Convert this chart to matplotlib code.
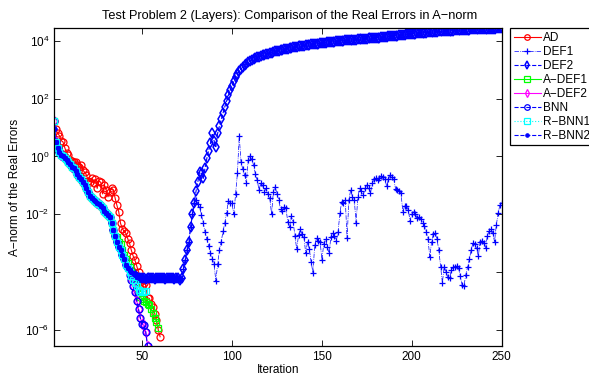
import numpy as np
import matplotlib.pyplot as plt

plt.rcParams['font.family'] = ['Liberation Sans', 'DejaVu Sans']
plt.rcParams['mathtext.fontset'] = 'custom'
plt.rcParams['mathtext.rm'] = 'Liberation Sans'
plt.rcParams['mathtext.it'] = 'Liberation Sans:italic'

# log10 of the A-norm error, one value per iteration

# iterations 1..42, common start of the deflation-type methods
early = [0.94, 0.50, 0.30, 0.15, 0.05, 0.00, -0.05, -0.12, -0.20, -0.28,
         -0.35, -0.41, -0.50, -0.60, -0.70, -0.80, -0.90, -1.00, -1.10, -1.25,
         -1.38, -1.45, -1.50, -1.55, -1.60, -1.65, -1.72, -1.80, -1.88, -1.95,
         -2.03, -2.10, -2.30, -2.55, -2.75, -2.95, -3.13, -3.25, -3.40, -3.55,
         -3.75, -3.88]
start_perturbed = 1.24          # iteration 1 for AD / A-DEF / BNN / R-BNN1

# iterations 43..71, stagnation of DEF1, DEF2 and R-BNN2
plateau = [-3.95, -4.00, -4.05, -4.12, -4.18, -4.21,
           -4.23, -4.22, -4.23, -4.24, -4.23, -4.23, -4.22, -4.23, -4.24, -4.23,
           -4.23, -4.22, -4.23, -4.23, -4.24, -4.23, -4.22, -4.23, -4.23, -4.24,
           -4.23, -4.23, -4.28]

# iterations 72..79, DEF1 and DEF2 blow up together
rise = [-4.20, -3.90, -3.59, -3.25, -2.95, -2.45, -2.00, -1.60]

# iterations 80..250
def1_tail = [-1.51, -1.65, -1.76, -2.03, -2.32, -2.61, -2.87, -3.10, -3.35, -3.55,
             -3.73, -4.31, -3.73, -3.24, -2.95, -2.60, -2.30, -1.95, -1.53, -1.60,
             -1.63, -2.00, -1.30, -0.59, 0.71, -0.18, -0.45, -0.64, -0.91, -0.12,
             0.01, -0.10, -0.30, -0.60, -0.82, -1.16, -0.93, -1.00, -1.22, -1.11,
             -1.30, -1.45, -2.00, -1.22, -1.05, -1.30, -1.51, -1.83, -1.90, -1.76,
             -1.80, -2.26, -2.46, -2.07, -2.26, -2.76, -3.22, -2.72, -2.53, -2.70,
             -2.80, -3.36, -2.96, -3.22, -3.65, -4.03, -3.07, -2.84, -2.92, -2.95,
             -3.59, -3.04, -2.87, -3.13, -3.36, -2.78, -2.64, -2.75, -2.92, -2.61,
             -1.97, -1.57, -1.60, -1.51, -2.84, -1.51, -1.16, -1.40, -1.50, -2.30,
             -1.40, -1.11, -1.20, -1.34, -1.10, -0.99, -1.10, -1.28, -0.93, -0.80,
             -0.76, -0.82, -0.75, -0.68, -0.72, -0.79, -1.03, -0.80, -0.64, -0.70,
             -0.79, -1.14, -1.15, -1.19, -1.28, -1.92, -1.72, -1.72, -1.85, -2.23,
             -2.00, -1.92, -2.00, -2.15, -2.10, -2.18, -2.30, -2.41, -2.61, -2.87,
             -3.48, -2.96, -2.69, -2.67, -2.87, -3.24, -3.82, -4.38, -3.82, -4.00,
             -4.17, -4.23, -3.94, -3.85, -3.82, -3.80, -3.88, -4.15, -4.46, -4.49,
             -4.11, -3.84, -3.57, -3.24, -3.01, -3.05, -3.19, -3.45, -2.96, -2.92,
             -3.00, -3.19, -2.76, -2.60, -2.53, -2.64, -2.96, -2.38, -1.97, -1.68,
             -1.60]

def2_tail = [-1.20, -0.88, -0.53, -0.60, -0.76, -0.40, -0.07, 0.20, 0.45, 0.80,
             0.55, 0.34, 0.80, 1.05, 1.28, 1.50, 1.72, 1.92, 2.12, 2.30,
             2.45, 2.60, 2.74, 2.86, 2.95, 3.03, 3.10, 3.16, 3.22, 3.27,
             3.31, 3.34, 3.37, 3.40, 3.43, 3.45, 3.48, 3.50, 3.52, 3.54,
             3.56, 3.58, 3.60, 3.62, 3.64, 3.66, 3.67, 3.69, 3.70, 3.72,
             3.73, 3.74, 3.76, 3.77, 3.78, 3.79, 3.80, 3.81, 3.82, 3.83,
             3.84, 3.85, 3.86, 3.87, 3.88, 3.89, 3.90, 3.90, 3.91, 3.92,
             3.93, 3.94, 3.94, 3.95, 3.96, 3.97, 3.97, 3.98, 3.99, 3.99,
             4.00, 4.01, 4.01, 4.02, 4.02, 4.03, 4.03, 4.04, 4.05, 4.05,
             4.06, 4.06, 4.07, 4.07, 4.08, 4.08, 4.09, 4.10, 4.10, 4.11,
             4.11, 4.12, 4.12, 4.13, 4.14, 4.14, 4.15, 4.16, 4.16, 4.17,
             4.18, 4.19, 4.19, 4.20, 4.21, 4.21, 4.22, 4.23, 4.24, 4.24,
             4.25, 4.26, 4.26, 4.27, 4.27, 4.28, 4.28, 4.29, 4.29, 4.30,
             4.30, 4.31, 4.31, 4.32, 4.32, 4.33, 4.33, 4.34, 4.34, 4.35,
             4.35, 4.35, 4.36, 4.36, 4.37, 4.37, 4.37, 4.38, 4.38, 4.38,
             4.39, 4.39, 4.39, 4.40, 4.40, 4.40, 4.41, 4.41, 4.41, 4.42,
             4.42, 4.42, 4.42, 4.43, 4.43, 4.43, 4.43, 4.44, 4.44, 4.44,
             4.44]

# AD, iterations 1..60
ad = [1.24, 0.95, 0.80, 0.72, 0.55, 0.50, 0.30, 0.12, 0.05, -0.12,
      -0.15, -0.20, -0.18, -0.30, -0.35, -0.30, -0.47, -0.55, -0.64, -0.85,
      -0.88, -0.75, -0.93, -0.80, -1.11, -0.85, -0.90, -1.30, -0.99, -1.15,
      -1.40, -1.25, -1.10, -1.16, -1.45, -1.70, -1.92, -2.32, -2.50, -2.60,
      -2.67, -2.85, -3.01, -3.25, -3.45, -3.60, -3.80, -4.00, -4.30, -4.50,
      -4.40, -4.45, -4.90, -4.92, -5.10, -5.21, -5.45, -5.67, -6.02, -6.25]

# A-DEF1, iterations 36..59
adef1_tail = [-2.80, -2.95, -3.05, -3.24, -3.40, -3.55, -3.70, -3.85, -4.00, -4.20,
              -4.40, -4.55, -4.70, -4.86, -4.95, -5.00, -5.05, -5.10, -5.15, -5.30,
              -5.44, -5.60, -5.73, -5.95]
# A-DEF2 and BNN, iterations 43..53
adef2_tail = [-4.10, -4.30, -4.50, -4.70, -5.00, -5.30, -5.60, -5.80, -5.85, -6.08, -6.56]
bnn_tail = [-4.10, -4.30, -4.50, -4.70, -5.00, -5.30, -5.60, -5.80, -5.85, -6.08, -6.56]
# R-BNN1, iterations 43..52
rbnn1_tail = [-4.00, -4.15, -4.28, -4.40, -4.50, -4.62, -4.69, -4.68, -4.70, -4.66]

M = '\u2212'
series = [
    ('AD', ad, dict(color='#ff0000', ls='-', marker='o')),
    ('DEF1', early + plateau + rise + def1_tail, dict(color='#0000ff', ls='-.', marker='+', lw=0.5)),
    ('DEF2', early + plateau + rise + def2_tail, dict(color='#0000ff', ls='--', marker='d', mew=1.1)),
    ('A' + M + 'DEF1', [start_perturbed] + early[1:35] + adef1_tail, dict(color='#00ff00', ls='-', marker='s')),
    ('A' + M + 'DEF2', [start_perturbed] + early[1:] + adef2_tail, dict(color='#ff00ff', ls='-', marker='d')),
    ('BNN', [start_perturbed] + early[1:] + bnn_tail, dict(color='#0000ff', ls='--', marker='o')),
    ('R' + M + 'BNN1', [start_perturbed] + early[1:] + rbnn1_tail, dict(color='#00ffff', ls=':', marker='s')),
    ('R' + M + 'BNN2', early + plateau, dict(color='#0000ff', ls='--', marker='.')),
]

fig = plt.figure(figsize=(5.89, 3.79), dpi=100)
ax = fig.add_axes([0.0917, 0.0879, 0.7601, 0.8374])

for name, vals, style in series:
    it = np.arange(1, len(vals) + 1)
    kw = dict(lw=0.8, ms=5, mfc='none', mew=0.9)
    kw.update(style)
    if kw['marker'] == '.':
        kw['ms'] = 6
        kw['mfc'] = kw['color']
    ax.semilogy(it, 10.0 ** np.array(vals), label=name, **kw)

ax.set_xlim(1, 250)
ax.set_ylim(10 ** -6.56, 10 ** 4.44)
ax.set_xticks([50, 100, 150, 200, 250])
ax.set_yticks([1e-6, 1e-4, 1e-2, 1e0, 1e2, 1e4])
ax.minorticks_off()
ax.yaxis.set_minor_locator(plt.NullLocator())
ax.tick_params(direction='in', top=True, right=True, length=4, width=0.6, labelsize=8.5)
for s in ax.spines.values():
    s.set_linewidth(0.9)

ax.set_title('Test Problem 2 (Layers): Comparison of the Real Errors in A' + M + 'norm',
             fontsize=9.2, x=0.527, pad=7)
ax.set_xlabel('Iteration', fontsize=8.5, labelpad=1)
ax.set_ylabel('A' + M + 'norm of the Real Errors', fontsize=8.5, labelpad=3)

leg = ax.legend(loc='upper left', bbox_to_anchor=(510 / 589, 1 - 28.3 / 379),
                bbox_transform=fig.transFigure, fontsize=8.5, fancybox=False,
                framealpha=1, edgecolor='black', borderpad=0.3, labelspacing=0.17,
                handlelength=2.3, handletextpad=0.2, borderaxespad=0, markerscale=0.8)
leg.get_frame().set_linewidth(0.9)

fig.savefig('out.png', dpi=100)
